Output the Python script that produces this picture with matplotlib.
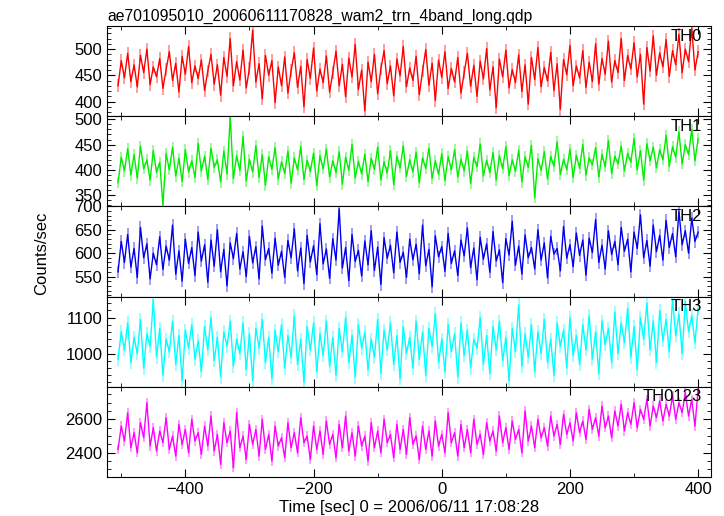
import numpy as np
import matplotlib
matplotlib.use("Agg")
import matplotlib.pyplot as plt
from matplotlib.ticker import MultipleLocator

# time bins (sec), 5 s spacing
t_start, t_step = -505, 5

th0 = [430, 478, 445, 492, 438, 470, 428, 488, 455, 500, 432, 466, 447,
       482, 425, 461, 495, 440, 473, 418, 486, 452, 505, 436, 468, 444,
       479, 421, 458, 490, 433, 470, 412, 484, 448, 520, 430, 476, 441,
       498, 426, 463, 536, 437, 472, 405, 488, 450, 478, 398, 466, 430,
       485, 416, 459, 493, 427, 467, 390, 480, 444, 502, 420, 462, 436,
       487, 418, 455, 496, 430, 471, 409, 483, 447, 509, 423, 460, 382,
       475, 438, 490, 415, 462, 497, 434, 468, 411, 481, 449, 505, 428,
       464, 440, 486, 413, 458, 499, 431, 473, 402, 479, 446, 495, 425,
       463, 437, 484, 416, 455, 492, 429, 469, 410, 477, 443, 501, 422,
       466, 388, 481, 447, 498, 426, 461, 436, 489, 419, 470, 395, 484,
       442, 503, 428, 465, 439, 494, 421, 472, 385, 480, 451, 507, 430,
       468, 445, 497, 427, 475, 438, 510, 433, 482, 452, 515, 437, 478,
       455, 520, 440, 488, 462, 512, 447, 490, 395, 503, 458, 525, 450,
       493, 466, 518, 448, 497, 470, 528, 455, 500, 476, 540, 460, 495]

th1 = [375, 425, 398, 442, 390, 430, 384, 447, 402, 420, 380, 438, 395,
       415, 330, 432, 400, 445, 388, 423, 377, 440, 396, 418, 385, 452,
       398, 427, 381, 443, 405, 420, 376, 437, 392, 505, 383, 428, 399,
       466, 378, 421, 396, 448, 385, 430, 370, 426, 401, 444, 382, 416,
       393, 437, 374, 424, 400, 446, 381, 419, 397, 433, 369, 428, 402,
       441, 386, 418, 395, 436, 372, 425, 399, 450, 384, 417, 392, 431,
       377, 423, 401, 445, 380, 416, 394, 438, 371, 427, 404, 447, 387,
       420, 396, 435, 375, 424, 403, 443, 383, 418, 391, 432, 379, 426,
       400, 440, 386, 421, 398, 437, 373, 425, 406, 451, 388, 419, 395,
       434, 380, 428, 402, 446, 389, 420, 397, 439, 376, 426, 405, 448,
       345, 422, 399, 436, 382, 427, 407, 455, 391, 421, 400, 441, 385,
       429, 403, 450, 390, 424, 410, 444, 386, 431, 406, 458, 393, 427,
       412, 447, 398, 433, 415, 462, 400, 438, 380, 452, 418, 445, 404,
       440, 420, 468, 407, 446, 425, 475, 412, 450, 430, 480, 418, 462]

th2 = [560, 625, 580, 640, 570, 610, 548, 655, 590, 620, 545, 600, 575,
       635, 565, 615, 585, 660, 555, 605, 540, 630, 578, 612, 552, 645,
       583, 618, 538, 628, 572, 650, 560, 608, 530, 622, 588, 642, 566,
       603, 550, 636, 579, 614, 545, 658, 586, 610, 557, 632, 574, 604,
       548, 627, 590, 652, 562, 611, 535, 638, 581, 616, 554, 663, 577,
       609, 546, 631, 585, 695, 568, 612, 541, 640, 582, 606, 551, 626,
       575, 648, 563, 613, 533, 633, 589, 617, 558, 645, 580, 602, 548,
       630, 586, 619, 556, 660, 573, 608, 528, 637, 592, 614, 561, 642,
       578, 605, 552, 628, 594, 654, 569, 611, 543, 634, 587, 620, 559,
       646, 583, 607, 537, 631, 596, 668, 574, 615, 555, 639, 590, 612,
       566, 650, 585, 622, 547, 636, 598, 610, 562, 657, 589, 618, 571,
       643, 595, 628, 553, 632, 601, 672, 580, 617, 566, 648, 597, 625,
       575, 655, 604, 630, 560, 645, 610, 682, 590, 627, 572, 660, 603,
       638, 585, 670, 612, 642, 592, 690, 618, 648, 600, 675, 625, 645]

th3 = [985, 1060, 1010, 1085, 975, 1045, 1000, 1095, 960, 1055, 1020, 1150, 990,
       1070, 940, 1040, 1005, 1090, 970, 1050, 925, 1065, 1015, 1080, 985, 1035,
       950, 1075, 1010, 1100, 980, 1045, 935, 1060, 1020, 1090, 965, 1040, 1000,
       1085, 955, 1055, 925, 1070, 1015, 1095, 975, 1045, 930, 1065, 1005, 1080,
       960, 1050, 990, 1105, 970, 1040, 920, 1075, 1010, 1085, 950, 1055, 995,
       1090, 965, 1045, 940, 1070, 1005, 1100, 975, 1050, 935, 1080, 1015, 1060,
       955, 1040, 990, 1095, 945, 1065, 1010, 1085, 970, 1050, 930, 1075, 1000,
       1045, 960, 1090, 985, 1060, 940, 1070, 1020, 1110, 975, 1040, 950, 1080,
       1005, 1055, 935, 1085, 995, 1065, 960, 1040, 1015, 1100, 970, 1050, 945,
       1075, 1010, 1090, 980, 1045, 925, 1070, 1005, 1135, 965, 1055, 990, 1080,
       950, 1060, 1000, 1095, 975, 1040, 940, 1085, 1020, 1065, 960, 1100, 995,
       1050, 970, 1080, 1010, 1105, 985, 1060, 945, 1090, 1025, 1070, 975, 1115,
       1000, 1085, 1030, 1125, 990, 1075, 955, 1100, 1040, 1140, 1010, 1090, 975,
       1120, 1035, 1095, 1005, 1150, 1050, 1110, 1000, 1145, 1060, 1105, 1030, 1125]

th0123 = [2420, 2560, 2470, 2640, 2430, 2520, 2400, 2580, 2490, 2700, 2440, 2550, 2410,
          2530, 2460, 2610, 2420, 2500, 2380, 2570, 2450, 2540, 2400, 2600, 2470, 2520,
          2390, 2560, 2440, 2620, 2410, 2510, 2330, 2580, 2460, 2530, 2310, 2640, 2430,
          2500, 2360, 2570, 2450, 2540, 2380, 2600, 2420, 2510, 2350, 2560, 2440, 2490,
          2370, 2580, 2430, 2520, 2400, 2610, 2460, 2500, 2360, 2560, 2420, 2530, 2390,
          2590, 2450, 2510, 2370, 2570, 2430, 2620, 2410, 2520, 2380, 2560, 2440, 2500,
          2350, 2580, 2430, 2530, 2400, 2600, 2460, 2510, 2370, 2570, 2420, 2540, 2390,
          2610, 2450, 2500, 2360, 2560, 2420, 2530, 2380, 2590, 2440, 2510, 2400, 2640,
          2460, 2520, 2380, 2570, 2430, 2540, 2400, 2600, 2450, 2510, 2390, 2580, 2470,
          2530, 2410, 2620, 2460, 2550, 2420, 2590, 2480, 2540, 2400, 2650, 2470, 2560,
          2430, 2600, 2490, 2550, 2440, 2620, 2500, 2570, 2450, 2630, 2510, 2580, 2470,
          2640, 2520, 2590, 2480, 2660, 2540, 2610, 2500, 2680, 2550, 2620, 2490, 2650,
          2560, 2690, 2530, 2640, 2570, 2700, 2550, 2660, 2600, 2720, 2560, 2680, 2610,
          2710, 2590, 2690, 2620, 2740, 2600, 2700, 2640, 2760, 2620, 2720, 2560, 2780]

names = ["TH0", "TH1", "TH2", "TH3", "TH0123"]
series = [th0, th1, th2, th3, th0123]
errs = [12, 11, 13, 18, 28]
colors = ["#ff0000", "#00ee00", "#0000ee", "#00ffff", "#ff00ff"]
ylims = [(372, 544), (328, 506), (507, 700), (908, 1158), (2255, 2795)]
majors = [50, 50, 50, 100, 200]
minors = [10, 10, 10, 20, 50]

plt.rcParams["font.family"] = ["Liberation Sans", "DejaVu Sans"]

fig = plt.figure(figsize=(7.24, 5.16), dpi=100)
fig.subplots_adjust(left=0.148, right=0.982, top=0.9496, bottom=0.0756, hspace=0)
axes = fig.subplots(5, 1, sharex=True)

for ax, name, vals, err, c, yl, mj, mn in zip(axes, names, series, errs, colors,
                                               ylims, majors, minors):
    vals = np.array(vals, dtype=float)
    t = t_start + t_step * np.arange(len(vals))
    ax.vlines(t, vals - err, vals + err, color=c, alpha=0.45, lw=1.2)
    ax.plot(t, vals, color=c, lw=1.0)
    ax.set_ylim(*yl)
    ax.set_xlim(-522, 420)
    ax.yaxis.set_major_locator(MultipleLocator(mj))
    ax.yaxis.set_minor_locator(MultipleLocator(mn))
    ax.xaxis.set_major_locator(MultipleLocator(200))
    ax.xaxis.set_minor_locator(MultipleLocator(100))
    ax.tick_params(which="both", direction="in", top=True, right=True,
                   labelsize=12)
    ax.tick_params(which="major", length=6)
    ax.tick_params(which="minor", length=3)
    ax.text(0.985, 0.97, name, transform=ax.transAxes, ha="right", va="top",
            fontsize=12)

axes[0].set_title("ae701095010_20060611170828_wam2_trn_4band_long.qdp",
                  loc="left", fontsize=11.3, pad=4)
axes[-1].set_xlabel("Time [sec] 0 = 2006/06/11 17:08:28", fontsize=12, labelpad=2)
fig.text(0.058, 0.51, "Counts/sec", rotation=90, ha="center", va="center",
         fontsize=12)

fig.savefig("out.png", dpi=100)
